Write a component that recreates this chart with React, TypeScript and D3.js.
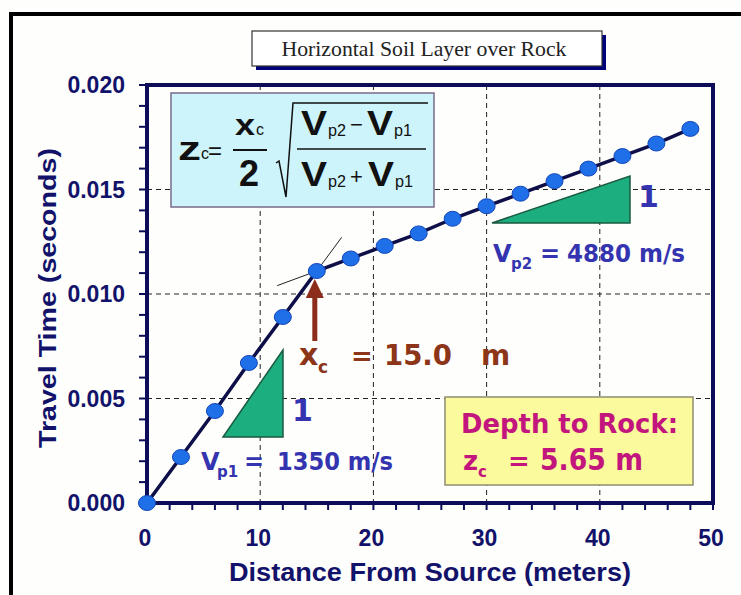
import React from "react";
import * as d3 from "d3";

// ---- data ----
const distances = [0, 3, 6, 9, 12, 15, 18, 21, 24, 27, 30, 33, 36, 39, 42, 45, 48];
const travelTimes = [
  0.0, 0.0022, 0.0044, 0.0067, 0.0089, 0.0111, 0.0117, 0.0123, 0.0129,
  0.0136, 0.0142, 0.0148, 0.0154, 0.016, 0.0166, 0.0172, 0.0179,
];
const xTickValues = [0, 10, 20, 30, 40, 50];
const xTickLabels = ["0", "10", "20", "30", "40", "50"];
const yTickValues = [0, 0.005, 0.01, 0.015, 0.02];
const yTickLabels = ["0.000", "0.005", "0.010", "0.015", "0.020"];
const xGridValues = [10, 20, 30, 40];
const yGridValues = [0.005, 0.01, 0.015];
const crossoverIndex = 5; // point at 15 m
const titleText = "Horizontal Soil Layer over Rock";
const xAxisTitle = "Distance From Source (meters)";
const yAxisTitle = "Travel Time (seconds)";
const vp1Text = "1350 m/s";
const vp2Text = "4880 m/s";
const xcText = "15.0";
const zcText = "5.65 m";

const W = 741;
const H = 595;
const NAVY = "#12126a";
const AXIS = "#0c0c58";
const SANS = "'Liberation Sans', Arial, sans-serif";
const COMIC = "'DejaVu Sans', sans-serif";

export default function App() {
  const x = d3.scaleLinear().domain([0, 50]).range([147, 713]);
  const y = d3.scaleLinear().domain([0, 0.02]).range([503, 85]);
  const pts = distances.map((d, i) => [d, travelTimes[i]] as [number, number]);
  const line = d3
    .line<[number, number]>()
    .x((d) => x(d[0]))
    .y((d) => y(d[1]));

  const xMinor = d3.range(0, 50.001, 2);
  const yMinor = d3.range(0, 0.02001, 0.001);

  // extension lines around the crossover point
  const ci = crossoverIndex;
  const xc = distances[ci];
  const tc = travelTimes[ci];
  const slope1 = (travelTimes[ci] - travelTimes[ci - 1]) / (distances[ci] - distances[ci - 1]);
  const slope2 = (travelTimes[ci + 1] - travelTimes[ci]) / (distances[ci + 1] - distances[ci]);
  const ext1 = [[xc, tc], [xc + 2.2, tc + 2.2 * slope1]] as [number, number][];
  const ext2 = [[xc - 3.5, tc - 3.5 * slope2], [xc, tc]] as [number, number][];
  const ax = x(xc) - 2;

  return (
    <svg
      width={W}
      height={H}
      style={{ position: "fixed", left: 0, top: 0, background: "#fefefc" }}
    >
      <rect x={0} y={0} width={W} height={H} fill="#fefefc" />
      {/* outer frame */}
      <rect x={11} y={14} width={W + 20} height={H + 20} fill="none" stroke="#000" strokeWidth={4} />

      {/* title box */}
      <rect x={256} y={35} width={350} height={35} fill="#00007a" />
      <rect x={252} y={31} width={350} height={35} fill="#fff" stroke="#333" strokeWidth={1.2} />
      <text
        x={424}
        y={56}
        textAnchor="middle"
        fontFamily="'Liberation Serif', 'Times New Roman', serif"
        fontSize={21}
        fill="#222"
        textLength={285}
        lengthAdjust="spacingAndGlyphs"
      >
        {titleText}
      </text>

      {/* grid */}
      {xGridValues.map((v) => (
        <line key={"gx" + v} x1={x(v)} x2={x(v)} y1={y(0.02)} y2={y(0)} stroke="#222" strokeWidth={1} strokeDasharray="5,4" />
      ))}
      {yGridValues.map((v) => (
        <line key={"gy" + v} x1={x(0)} x2={x(50)} y1={y(v)} y2={y(v)} stroke="#222" strokeWidth={1} strokeDasharray="5,4" />
      ))}

      {/* formula box */}
      <rect x={171} y={93} width={263} height={114} fill="#cdf4fa" stroke="#7a6a8a" strokeWidth={1.5} />
      <g fontFamily={SANS} fontWeight="bold" fill="#111">
        <text x={178} y={160} fontSize={34} textLength={23} lengthAdjust="spacingAndGlyphs">z</text>
        <text x={201} y={159} fontSize={16} fontWeight="normal">c</text>
        <text x={208} y={159} fontSize={24} fontWeight="normal" textLength={14} lengthAdjust="spacingAndGlyphs">=</text>
        <text x={235} y={135} fontSize={30} textLength={20} lengthAdjust="spacingAndGlyphs">x</text>
        <text x={256} y={135} fontSize={16} fontWeight="normal">c</text>
        <line x1={233} x2={267} y1={150} y2={150} stroke="#111" strokeWidth={2} />
        <text x={249} y={186} fontSize={36} textAnchor="middle">2</text>
        <polyline points="276,163 279,161 286,197 293,103 428,103" fill="none" stroke="#111" strokeWidth={1.5} />
        <line x1={297} x2={426} y1={149} y2={149} stroke="#111" strokeWidth={1.5} />
        <text x={301} y={135} fontSize={35} textLength={26} lengthAdjust="spacingAndGlyphs">V</text>
        <text x={328} y={136} fontSize={17} fontWeight="normal" textLength={18} lengthAdjust="spacingAndGlyphs">p2</text>
        <text x={350} y={132} fontSize={22} fontWeight="normal">−</text>
        <text x={367} y={135} fontSize={35} textLength={26} lengthAdjust="spacingAndGlyphs">V</text>
        <text x={394} y={136} fontSize={17} fontWeight="normal" textLength={18} lengthAdjust="spacingAndGlyphs">p1</text>
        <text x={301} y={186} fontSize={35} textLength={26} lengthAdjust="spacingAndGlyphs">V</text>
        <text x={328} y={187} fontSize={17} fontWeight="normal" textLength={18} lengthAdjust="spacingAndGlyphs">p2</text>
        <text x={350} y={184} fontSize={22} fontWeight="normal">+</text>
        <text x={368} y={186} fontSize={35} textLength={26} lengthAdjust="spacingAndGlyphs">V</text>
        <text x={395} y={187} fontSize={17} fontWeight="normal" textLength={18} lengthAdjust="spacingAndGlyphs">p1</text>
      </g>

      {/* depth box */}
      <rect x={445} y={397} width={248} height={88} fill="#fbfa9c" stroke="#8f8f70" strokeWidth={1.5} />
      <g fontFamily={COMIC} fontWeight="bold" fill="#c2157d">
        <text x={461} y={433} fontSize={26} textLength={217} lengthAdjust="spacingAndGlyphs">Depth to Rock:</text>
        <text x={463} y={470} fontSize={26}>z</text>
        <text x={478} y={477} fontSize={15}>c</text>
        <text x={508} y={470} fontSize={26}>=</text>
        <text x={540} y={470} fontSize={30} textLength={103} lengthAdjust="spacingAndGlyphs">{zcText}</text>
      </g>

      {/* slope triangles */}
      <polygon points="223,437 283,437 283,350" fill="#1dae80" stroke="#1a5a40" strokeWidth={1.5} />
      <polygon points="492,223 630,223 630,176" fill="#1dae80" stroke="#1a5a40" strokeWidth={1.5} />
      <g fontFamily={COMIC} fontWeight="bold" fill="#3434b0">
        <text x={292} y={421} fontSize={30}>1</text>
        <text x={638} y={207} fontSize={30}>1</text>
        <text x={201} y={470} fontSize={24}>V</text>
        <text x={217} y={477} fontSize={15}>p1</text>
        <text x={244} y={470} fontSize={24}>=</text>
        <text x={277} y={470} fontSize={24} textLength={116} lengthAdjust="spacingAndGlyphs">{vp1Text}</text>
        <text x={493} y={262} fontSize={24}>V</text>
        <text x={511} y={269} fontSize={15}>p2</text>
        <text x={540} y={262} fontSize={24}>=</text>
        <text x={567} y={262} fontSize={24} textLength={118} lengthAdjust="spacingAndGlyphs">{vp2Text}</text>
      </g>

      {/* x_c annotation */}
      <line x1={ax} x2={ax} y1={341} y2={296} stroke="#8c2d1c" strokeWidth={5} />
      <polygon points={`${ax},279 ${ax - 9},298 ${ax + 9},298`} fill="#8c2d1c" />
      <g fontFamily={COMIC} fontWeight="bold" fill="#8c3518">
        <text x={299} y={365} fontSize={30}>x</text>
        <text x={318} y={373} fontSize={17}>c</text>
        <text x={351} y={365} fontSize={26}>=</text>
        <text x={384} y={365} fontSize={28} textLength={68} lengthAdjust="spacingAndGlyphs">{xcText}</text>
        <text x={481} y={365} fontSize={28}>m</text>
      </g>

      {/* axes frame */}
      <rect x={x(0)} y={y(0.02)} width={x(50) - x(0)} height={y(0) - y(0.02)} fill="none" stroke={AXIS} strokeWidth={4} />
      {yMinor.map((v, i) => (
        <line key={"ty" + i} x1={x(0) - 8} x2={x(0)} y1={y(v)} y2={y(v)} stroke={AXIS} strokeWidth={2} />
      ))}
      {xMinor.map((v, i) => (
        <line key={"tx" + i} x1={x(v)} x2={x(v)} y1={y(0)} y2={y(0) + 7} stroke={AXIS} strokeWidth={2} />
      ))}

      {/* extension lines */}
      <path d={line(ext1) || ""} fill="none" stroke="#222" strokeWidth={1} />
      <path d={line(ext2) || ""} fill="none" stroke="#222" strokeWidth={1} />

      {/* data */}
      <path d={line(pts) || ""} fill="none" stroke="#0e0e48" strokeWidth={3.5} />
      {pts.map((p, i) => (
        <ellipse key={"p" + i} cx={x(p[0])} cy={y(p[1])} rx={8.5} ry={7.5} fill="#1f6fe8" stroke="#1546b8" strokeWidth={1} />
      ))}

      {/* tick labels */}
      <g fontFamily={SANS} fontWeight="bold" fontSize={23} fill={NAVY}>
        {yTickValues.map((v, i) => (
          <text key={"yl" + i} x={125} y={y(v) + 8} textAnchor="end">
            {yTickLabels[i]}
          </text>
        ))}
        {xTickValues.map((v, i) => (
          <text key={"xl" + i} x={x(v) - 2} y={546} textAnchor="middle">
            {xTickLabels[i]}
          </text>
        ))}
      </g>
      <text
        x={430}
        y={581}
        textAnchor="middle"
        fontFamily={SANS}
        fontWeight="bold"
        fontSize={25}
        fill={NAVY}
        textLength={402}
        lengthAdjust="spacingAndGlyphs"
      >
        {xAxisTitle}
      </text>
      <text
        transform="translate(56,298) rotate(-90)"
        textAnchor="middle"
        fontFamily={SANS}
        fontWeight="bold"
        fontSize={24}
        fill={NAVY}
        textLength={300}
        lengthAdjust="spacingAndGlyphs"
      >
        {yAxisTitle}
      </text>
    </svg>
  );
}
